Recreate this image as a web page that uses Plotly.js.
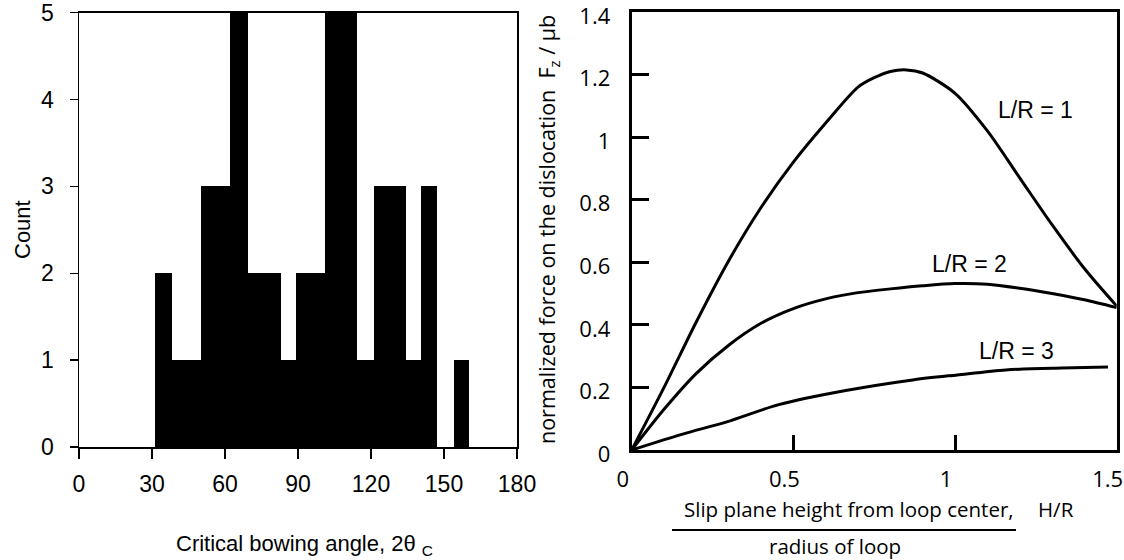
<!DOCTYPE html>
<html>
<head>
<meta charset="utf-8">
<script src="https://cdn.plot.ly/plotly-3.0.1.min.js"></script>
<style>html,body{margin:0;padding:0;background:#fff;}#chart{width:1124px;height:560px;}</style>
</head>
<body>
<div id="chart"></div>
<script>
// ---- Left panel: histogram of critical bowing angle ----
const binLeft  = [31.2, 38.3, 50.3, 62.0, 69.5, 83.0, 89.3, 101.0, 114.1, 121.3, 134.4, 140.6, 154.0];
const binRight = [38.3, 50.3, 62.0, 69.5, 83.0, 89.3, 101.0, 114.1, 121.3, 134.4, 140.6, 147.0, 160.4];
const counts   = [2, 1, 3, 5, 2, 1, 2, 5, 1, 3, 1, 3, 1];
const angleTicks = [0, 30, 60, 90, 120, 150, 180];
const countTicks = [0, 1, 2, 3, 4, 5];

// ---- Right panel: normalized force vs slip plane height ----
const hr1 = [0, 0.1, 0.2, 0.3, 0.4, 0.5, 0.6, 0.7, 0.75, 0.8, 0.85, 0.9, 1.0, 1.1, 1.2, 1.3, 1.4, 1.5];
const f1  = [0, 0.2, 0.41, 0.605, 0.775, 0.92, 1.045, 1.16, 1.19, 1.21, 1.215, 1.205, 1.14, 1.02, 0.87, 0.72, 0.58, 0.46];
const hr2 = [0, 0.1, 0.2, 0.3, 0.4, 0.5, 0.6, 0.7, 0.8, 0.9, 1.0, 1.1, 1.2, 1.3, 1.4, 1.5];
const f2  = [0, 0.13, 0.245, 0.335, 0.405, 0.452, 0.483, 0.503, 0.515, 0.525, 0.532, 0.53, 0.517, 0.5, 0.48, 0.455];
const hr3 = [0, 0.155, 0.294, 0.455, 0.662, 0.869, 1.007, 1.157, 1.33, 1.473];
const f3  = [0, 0.05, 0.09, 0.145, 0.19, 0.224, 0.24, 0.256, 0.262, 0.265];
const curveLabels = ["L/R = 1", "L/R = 2", "L/R = 3"];
const labelX = [1.25, 1.045, 1.19];
const labelY = [1.086, 0.593, 0.315];
const hrTicks = [0, 0.5, 1, 1.5];
const forceTicks = [0, 0.2, 0.4, 0.6, 0.8, 1, 1.2, 1.4];

const W = 1124, H = 560;
const px = v => v / W;
const py = v => 1 - v / H;

const arial = 'Liberation Sans, Arial, sans-serif';
const sans = 'Open Sans, Noto Sans, sans-serif';

const traces = [
  {
    type: 'bar',
    x: binLeft.map((l, i) => (l + binRight[i]) / 2),
    y: counts,
    width: binLeft.map((l, i) => binRight[i] - l),
    marker: {color: '#000', line: {width: 0}},
    xaxis: 'x', yaxis: 'y', hoverinfo: 'x+y'
  },
  {type: 'scatter', mode: 'lines', x: hr1, y: f1, line: {color: '#000', width: 3, shape: 'spline', smoothing: 0.8}, xaxis: 'x2', yaxis: 'y2', name: curveLabels[0]},
  {type: 'scatter', mode: 'lines', x: hr2, y: f2, line: {color: '#000', width: 3, shape: 'spline', smoothing: 0.8}, xaxis: 'x2', yaxis: 'y2', name: curveLabels[1]},
  {type: 'scatter', mode: 'lines', x: hr3, y: f3, line: {color: '#000', width: 3, shape: 'spline', smoothing: 0.8}, xaxis: 'x2', yaxis: 'y2', name: curveLabels[2]}
];

const ann = (text, x, y, opts) => Object.assign({
  text: text, xref: 'paper', yref: 'paper', x: x, y: y,
  xanchor: 'center', yanchor: 'middle', showarrow: false
}, opts);

const annotations = [
  ann('Count', px(22), py(230), {textangle: -90, font: {family: arial, size: 22, color: '#000'}}),
  ann('Critical bowing angle, 2θ <sub>C</sub>', px(304), py(545), {font: {family: arial, size: 22, color: '#000'}}),
  ann('normalized force on the dislocation  F<sub>z</sub> / μb', px(548), py(230), {textangle: -90, font: {family: sans, size: 21.5, color: '#000'}}),
  ann('Slip plane height from loop center,', px(1016), py(509), {xanchor: 'right', font: {family: sans, size: 20.5, color: '#000'}}),
  ann('H/R', px(1036), py(509), {xanchor: 'left', font: {family: sans, size: 20.5, color: '#000'}}),
  ann('radius of loop', px(835), py(546), {font: {family: sans, size: 20.5, color: '#000'}})
];
curveLabels.forEach((t, i) => annotations.push({
  text: t, xref: 'x2', yref: 'y2', x: labelX[i], y: labelY[i], showarrow: false,
  xanchor: 'center', yanchor: 'middle',
  font: {family: arial, size: 23, color: '#000'}
}));

const layout = {
  width: W, height: H,
  margin: {l: 0, r: 0, t: 0, b: 0},
  paper_bgcolor: '#fff', plot_bgcolor: '#fff',
  showlegend: false,
  bargap: 0,
  xaxis: {
    domain: [px(79), px(517)], range: [0, 180], anchor: 'y',
    tickvals: angleTicks, ticks: 'outside', ticklen: 10, tickwidth: 1.5, tickcolor: '#000',
    showline: true, mirror: true, linecolor: '#000', linewidth: 1.5,
    showgrid: false, zeroline: false, ticklabelstandoff: 6, ticklabeloverflow: 'allow',
    tickfont: {family: arial, size: 23, color: '#000'}
  },
  yaxis: {
    domain: [py(447), py(12.7)], range: [0, 5], anchor: 'x',
    tickvals: countTicks, ticks: 'outside', ticklen: 8, tickwidth: 1.5, tickcolor: '#000',
    showline: true, mirror: true, linecolor: '#000', linewidth: 1.5,
    showgrid: false, zeroline: false, ticklabelstandoff: 11, ticklabeloverflow: 'allow',
    tickfont: {family: arial, size: 23, color: '#000'}
  },
  xaxis2: {
    domain: [px(631.7), px(1116.7)], range: [0, 1.5], anchor: 'y2',
    tickvals: hrTicks, ticks: 'inside', ticklen: 15, tickwidth: 3, tickcolor: '#000',
    showline: true, mirror: true, linecolor: '#000', linewidth: 3,
    showgrid: false, zeroline: false, ticklabelstandoff: 8, ticklabeloverflow: 'allow',
    ticklabelshift: -9,
    tickfont: {family: sans, size: 22, color: '#000'}
  },
  yaxis2: {
    domain: [py(450), py(12)], range: [0, 1.4], anchor: 'x2',
    tickvals: forceTicks, ticks: 'inside', ticklen: 17, tickwidth: 3, tickcolor: '#000',
    showline: true, mirror: true, linecolor: '#000', linewidth: 3,
    showgrid: false, zeroline: false, ticklabelstandoff: 14, ticklabeloverflow: 'allow',
    ticklabelshift: 4,
    tickfont: {family: sans, size: 22, color: '#000'}
  },
  annotations: annotations,
  shapes: [
    {type: 'line', xref: 'paper', yref: 'paper', x0: px(672), x1: px(1016), y0: py(530), y1: py(530), line: {color: '#000', width: 2}}
  ]
};

Plotly.newPlot('chart', traces, layout, {displayModeBar: false, staticPlot: true});
</script>
</body>
</html>
